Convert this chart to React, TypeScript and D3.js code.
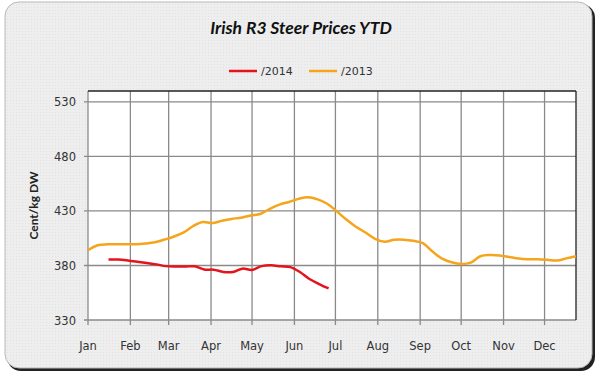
import React from "react";
import * as d3 from "d3";

const TITLE = "Irish R3 Steer Prices YTD";
const Y_LABEL = "Cent/kg DW";
const Y_TICKS = [330, 380, 430, 480, 530];
const MONTHS = ["Jan", "Feb", "Mar", "Apr", "May", "Jun", "Jul", "Aug", "Sep", "Oct", "Nov", "Dec"];

// 2013 weekly dates (month-day on common axis)
const DATES_2013 = [
  "01-01", "01-08", "01-15", "01-22", "01-29",
  "02-05", "02-12", "02-19", "02-26",
  "03-05", "03-12", "03-19", "03-26",
  "04-02", "04-09", "04-16", "04-23", "04-30",
  "05-07", "05-14", "05-21", "05-28",
  "06-04", "06-11", "06-18", "06-25",
  "07-02", "07-09", "07-16", "07-23", "07-30",
  "08-06", "08-13", "08-20", "08-27",
  "09-03", "09-10", "09-17", "09-24",
  "10-01", "10-08", "10-15", "10-22", "10-29",
  "11-05", "11-12", "11-19", "11-26",
  "12-03", "12-10", "12-17", "12-24",
];
const VALUES_2013 = [
  393.9, 398.5, 399.4, 399.4, 399.4, 399.4, 400.1, 401.3, 403.8, 406.6,
  410.3, 416.2, 419.8, 418.9, 421.0, 422.7, 423.8, 425.9, 427.2, 432.0,
  435.8, 438.2, 441.1, 442.6, 440.6, 436.6, 429.6, 422.1, 415.5, 410.3,
  404.5, 401.8, 403.6, 403.7, 402.6, 400.5, 392.8, 386.3, 383.0, 381.4,
  382.6, 388.5, 389.6, 389.2, 387.8, 386.3, 385.7, 385.7, 385.2, 384.5,
  386.5, 388.5,
];

const DATES_2014 = [
  "01-16", "01-23", "01-30",
  "02-06", "02-13", "02-20", "02-27",
  "03-06", "03-13", "03-20", "03-27",
  "04-03", "04-10", "04-17", "04-24",
  "05-01", "05-08", "05-15", "05-22", "05-29",
  "06-05", "06-12", "06-19", "06-26",
];
const VALUES_2014 = [
  385.4, 385.4, 384.6, 383.5, 382.3, 381.0, 379.4, 379.0, 379.0, 379.2,
  376.3, 376.1, 374.1, 374.1, 377.1, 375.9, 379.4, 380.1, 379.2, 378.5,
  374.0, 367.6, 363.0, 358.9,
];

const SERIES = [
  { name: "/2014", color: "#e3141c", dates: DATES_2014, values: VALUES_2014 },
  { name: "/2013", color: "#f5a41c", dates: DATES_2013, values: VALUES_2013 },
];

const toDate = (md: string) => new Date(`2013-${md}T00:00:00`);

export default function App() {
  const W = 602;
  const H = 374;
  const left = 88, right = 576, top = 91, bottom = 320;

  const x = d3.scaleTime().domain([toDate("01-01"), toDate("12-24")]).range([left, right]);
  const y = d3.scaleLinear().domain([330, 540]).range([bottom, top]);

  const monthStarts = MONTHS.map((_, i) => new Date(2013, i, 1));

  const line = d3
    .line<[Date, number]>()
    .x((d) => x(d[0]))
    .y((d) => y(d[1]))
    .curve(d3.curveCatmullRom.alpha(0.5));

  const font = "'DejaVu Sans', Verdana, sans-serif";

  return (
    <svg width={W} height={H} style={{ position: "fixed", left: 0, top: 0 }}>
      <defs>
        <pattern id="stip" width="3" height="3" patternUnits="userSpaceOnUse">
          <rect width="3" height="3" fill="#eeeeee" />
          <rect x="1" y="1" width="1" height="1" fill="#e2e2e2" />
        </pattern>
      </defs>
      <rect x={0} y={0} width={W} height={H} fill="#ffffff" />
      {/* card shadow */}
      <rect x={7} y={4} width={588} height={367} rx={14} fill="#222" />
      <rect x={5} y={2} width={587} height={366} rx={14} fill="url(#stip)" stroke="#b8b8b8" strokeWidth={1} />

      <text x={301} y={34} textAnchor="middle" fontFamily="Lato, 'Open Sans', sans-serif" fontStyle="italic" fontWeight={700} fontSize={17.5} fill="#111">
        {TITLE}
      </text>

      {/* legend */}
      {SERIES.map((s, i) => {
        const lx = 229 + i * 80;
        return (
          <g key={s.name}>
            <line x1={lx} x2={lx + 28} y1={71} y2={71} stroke={s.color} strokeWidth={2.5} />
            <text x={lx + 32} y={75} fontFamily={font} fontSize={11} fill="#333">
              {s.name}
            </text>
          </g>
        );
      })}

      {/* plot area */}
      <rect x={left} y={top} width={right - left} height={bottom - top} fill="#ffffff" />
      {Y_TICKS.map((t) => (
        <line key={"h" + t} x1={left - 4} x2={right} y1={y(t)} y2={y(t)} stroke="#8a8a8a" strokeWidth={1.3} />
      ))}
      {monthStarts.map((d, i) => (
        <line key={"v" + i} x1={x(d)} x2={x(d)} y1={top} y2={bottom + 5} stroke="#8a8a8a" strokeWidth={1.3} />
      ))}
      <line x1={left} x2={right} y1={top} y2={top} stroke="#222" strokeWidth={1.3} />
      <line x1={right} x2={right} y1={top} y2={bottom} stroke="#222" strokeWidth={1.3} />

      {Y_TICKS.map((t) => (
        <text key={"yl" + t} x={76} y={y(t) + 4.5} textAnchor="end" fontFamily={font} fontSize={11.5} fill="#333">
          {t}
        </text>
      ))}
      {monthStarts.map((d, i) => (
        <text key={"xl" + i} x={x(d)} y={350} textAnchor="middle" fontFamily={font} fontSize={11.5} fill="#333">
          {MONTHS[i]}
        </text>
      ))}

      <text
        transform={`translate(38,${(top + bottom) / 2}) rotate(-90)`}
        textAnchor="middle"
        fontFamily="Lato, 'Open Sans', sans-serif"
        fontWeight={700}
        fontSize={12}
        fill="#222"
      >
        {Y_LABEL}
      </text>

      {[...SERIES].reverse().map((s) => (
        <path
          key={s.name}
          d={line(s.dates.map((md, i) => [toDate(md), s.values[i]] as [Date, number])) || ""}
          fill="none"
          stroke={s.color}
          strokeWidth={2.5}
          strokeLinejoin="round"
        />
      ))}
    </svg>
  );
}
